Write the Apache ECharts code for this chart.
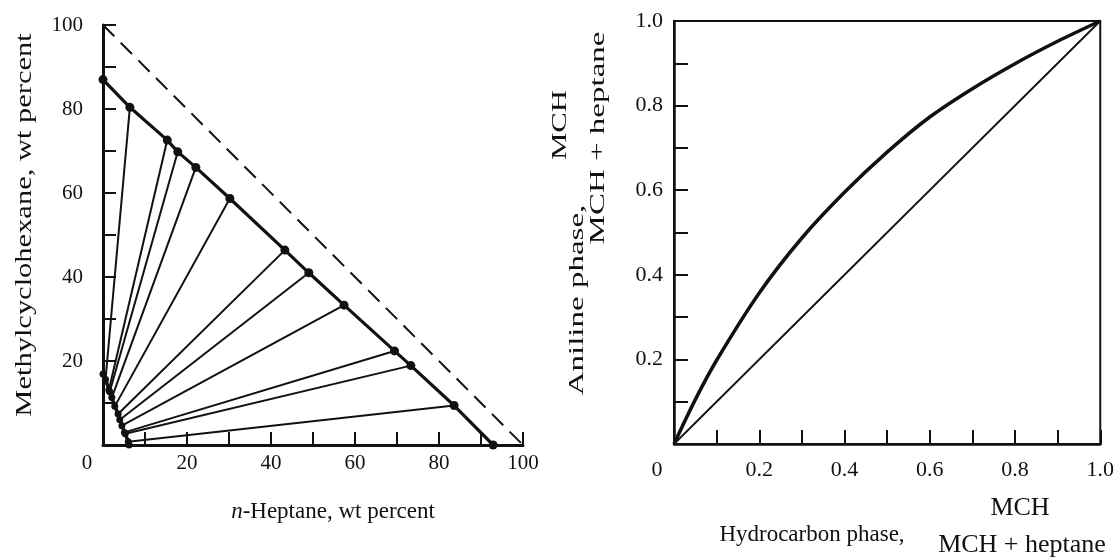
<!DOCTYPE html>
<html>
<head>
<meta charset="utf-8">
<script src="https://cdn.jsdelivr.net/npm/echarts@6/dist/echarts.min.js"></script>
<style>html,body{margin:0;padding:0;background:#fff}#c{width:1117px;height:559px}</style>
</head>
<body>
<div id="c"></div>
<script>
// Left panel: ternary-type diagram (wt percent)
const hcHeptane = [92.9, 83.6, 73.3, 69.4, 57.4, 49.0, 43.3, 30.2, 22.1, 17.8, 15.3, 6.4, 0];
const hcMCH     = [0, 9.4, 18.9, 22.4, 33.3, 41.0, 46.4, 58.7, 66.1, 69.8, 72.6, 80.4, 87.0];
const anHeptane = [6.2, 6.0, 5.3, 5.1, 4.5, 4.0, 3.6, 2.8, 2.1, 1.6, 1.4, 0.6, 0];
const anMCH     = [0, 0.8, 2.7, 3.0, 4.6, 6.0, 7.4, 9.2, 11.3, 12.7, 13.1, 15.6, 16.9];
const hypotenuseX = [0, 100];
const hypotenuseY = [100, 0];
const leftTicks = [0, 20, 40, 60, 80, 100];

// Right panel: distribution curve
const curveX = [0, 0.05, 0.1, 0.2, 0.3, 0.4, 0.5, 0.6, 0.7, 0.8, 0.9, 1.0];
const curveY = [0, 0.105, 0.198, 0.357, 0.487, 0.595, 0.69, 0.773, 0.84, 0.899, 0.952, 1.0];
const diagX = [0, 1];
const diagY = [0, 1];
const rightTicks = ['0', '0.2', '0.4', '0.6', '0.8', '1.0'];

const FONT = 'Liberation Serif';
const BLACK = '#111';

const chart = echarts.init(document.getElementById('c'));

const zip = (a, b) => a.map((v, i) => [v, b[i]]);
const tieData = hcHeptane.map((h, i) => ({coords: [[h, hcMCH[i]], [anHeptane[i], anMCH[i]]]}));

const baseLabel = {fontFamily: FONT, fontSize: 21, color: BLACK};

chart.setOption({
  animation: false,
  backgroundColor: '#fff',
  grid: [
    {left: 103, top: 25, width: 420, height: 420},
    {left: 674, top: 21, width: 428, height: 423, show: true, borderColor: BLACK, borderWidth: 2, backgroundColor: 'transparent'}
  ],
  xAxis: [
    {
      gridIndex: 0, type: 'value', min: 0, max: 100, interval: 10,
      axisLine: {show: true, onZero: false, lineStyle: {color: BLACK, width: 3}},
      axisTick: {show: true, inside: true, length: 13, lineStyle: {color: BLACK, width: 2}},
      splitLine: {show: false},
      axisLabel: Object.assign({}, baseLabel, {
        margin: 8,
        formatter: v => v === 0 ? '{z|0}' : (leftTicks.indexOf(v) >= 0 ? String(v) : ''),
        rich: {z: {fontFamily: FONT, fontSize: 21, color: BLACK, padding: [0, 32, 0, 0]}}
      })
    },
    {
      gridIndex: 1, type: 'value', min: 0, max: 1, interval: 0.1,
      axisLine: {show: true, onZero: false, lineStyle: {color: BLACK, width: 2.5}},
      axisTick: {show: true, inside: true, length: 14, lineStyle: {color: BLACK, width: 2}},
      splitLine: {show: false},
      axisLabel: Object.assign({}, baseLabel, {
        fontSize: 22, margin: 15,
        formatter: v => {
          const k = Math.round(v * 10);
          if (k === 0) return '{z|0}';
          return k % 2 === 0 ? rightTicks[k / 2] : '';
        },
        rich: {z: {fontFamily: FONT, fontSize: 22, color: BLACK, padding: [0, 34, 0, 0]}}
      })
    }
  ],
  yAxis: [
    {
      gridIndex: 0, type: 'value', min: 0, max: 100, interval: 10,
      axisLine: {show: true, onZero: false, lineStyle: {color: BLACK, width: 3}},
      axisTick: {show: true, inside: true, length: 13, lineStyle: {color: BLACK, width: 2}},
      splitLine: {show: false},
      axisLabel: Object.assign({}, baseLabel, {
        margin: 20,
        formatter: v => (v !== 0 && leftTicks.indexOf(v) >= 0) ? String(v) : ''
      })
    },
    {
      gridIndex: 1, type: 'value', min: 0, max: 1, interval: 0.1,
      axisLine: {show: true, onZero: false, lineStyle: {color: BLACK, width: 2.5}},
      axisTick: {show: true, inside: true, length: 14, lineStyle: {color: BLACK, width: 2}},
      splitLine: {show: false},
      axisLabel: Object.assign({}, baseLabel, {
        fontSize: 22, margin: 11,
        formatter: v => {
          const k = Math.round(v * 10);
          return (k !== 0 && k % 2 === 0) ? rightTicks[k / 2] : '';
        }
      })
    }
  ],
  series: [
    {
      name: 'ideal', type: 'line', xAxisIndex: 0, yAxisIndex: 0,
      data: zip(hypotenuseX, hypotenuseY), symbol: 'none',
      lineStyle: {color: BLACK, width: 2, type: [16, 9]}, silent: true
    },
    {
      name: 'tie lines', type: 'lines', coordinateSystem: 'cartesian2d', xAxisIndex: 0, yAxisIndex: 0,
      data: tieData, symbol: 'none',
      lineStyle: {color: BLACK, width: 2, opacity: 1}, silent: true
    },
    {
      name: 'hydrocarbon phase', type: 'line', xAxisIndex: 0, yAxisIndex: 0,
      data: zip(hcHeptane, hcMCH), symbol: 'circle', symbolSize: 9, showAllSymbol: true,
      itemStyle: {color: BLACK}, lineStyle: {color: BLACK, width: 3.2}, silent: true
    },
    {
      name: 'aniline phase', type: 'line', xAxisIndex: 0, yAxisIndex: 0,
      data: zip(anHeptane, anMCH), symbol: 'circle', symbolSize: 7, showAllSymbol: true,
      itemStyle: {color: BLACK}, lineStyle: {color: BLACK, width: 3.5}, silent: true
    },
    {
      name: 'diagonal', type: 'line', xAxisIndex: 1, yAxisIndex: 1,
      data: zip(diagX, diagY), symbol: 'none',
      lineStyle: {color: BLACK, width: 1.8}, silent: true
    },
    {
      name: 'distribution', type: 'line', xAxisIndex: 1, yAxisIndex: 1,
      data: zip(curveX, curveY), symbol: 'none', smooth: 0.3,
      lineStyle: {color: BLACK, width: 3.5}, silent: true
    }
  ],
  graphic: [
    {type: 'text', x: 333, y: 512, style: {
      text: '{i|n}-Heptane, wt percent', x: 0, y: 0, align: 'center', verticalAlign: 'middle',
      fontFamily: FONT, fontSize: 23, fill: BLACK,
      rich: {i: {fontFamily: FONT, fontSize: 23, fontStyle: 'italic', fill: BLACK}}
    }},
    {type: 'text', x: 25, y: 225, rotation: Math.PI / 2, scaleX: 1.27, style: {
      text: 'Methylcyclohexane, wt percent', x: 0, y: 0, align: 'center', verticalAlign: 'middle',
      fontFamily: FONT, fontSize: 24, fill: BLACK
    }},
    {type: 'text', x: 577, y: 300, rotation: Math.PI / 2, scaleX: 1.5, style: {
      text: 'Aniline phase,', x: 0, y: 0, align: 'center', verticalAlign: 'middle',
      fontFamily: FONT, fontSize: 22, fill: BLACK
    }},
    {type: 'text', x: 560, y: 125, rotation: Math.PI / 2, scaleX: 1.4, style: {
      text: 'MCH', x: 0, y: 0, align: 'center', verticalAlign: 'middle',
      fontFamily: FONT, fontSize: 22, fill: BLACK
    }},
    {type: 'text', x: 598, y: 138, rotation: Math.PI / 2, scaleX: 1.5, style: {
      text: 'MCH + heptane', x: 0, y: 0, align: 'center', verticalAlign: 'middle',
      fontFamily: FONT, fontSize: 22, fill: BLACK
    }},
    {type: 'text', x: 812, y: 535, style: {
      text: 'Hydrocarbon phase,', x: 0, y: 0, align: 'center', verticalAlign: 'middle',
      fontFamily: FONT, fontSize: 23, fill: BLACK
    }},
    {type: 'text', x: 1020, y: 508, style: {
      text: 'MCH', x: 0, y: 0, align: 'center', verticalAlign: 'middle',
      fontFamily: FONT, fontSize: 26, fill: BLACK
    }},
    {type: 'text', x: 1022, y: 545, style: {
      text: 'MCH + heptane', x: 0, y: 0, align: 'center', verticalAlign: 'middle',
      fontFamily: FONT, fontSize: 26, fill: BLACK
    }}
  ]
});
</script>
</body>
</html>
